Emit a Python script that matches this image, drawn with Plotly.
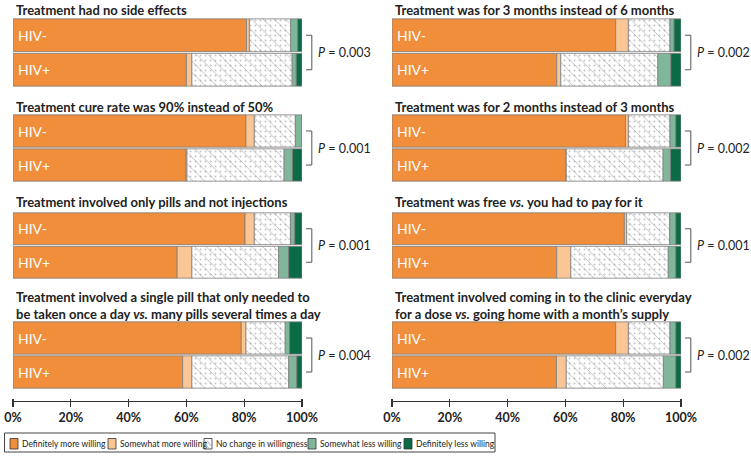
import plotly.graph_objects as go

# ---------------- data ----------------
titles = [
    "Treatment had no side effects",
    "Treatment was for 3 months instead of 6 months",
    "Treatment cure rate was 90% instead of 50%",
    "Treatment was for 2 months instead of 3 months",
    "Treatment involved only pills and not injections",
    "Treatment was free <i>vs.</i> you had to pay for it",
    "Treatment involved a single pill that only needed to<br>be taken once a day <i>vs.</i> many pills several times a day",
    "Treatment involved coming in to the clinic everyday<br>for a dose <i>vs.</i> going home with a month\u2019s supply",
]
p_values = ["0.003", "0.002", "0.001", "0.002", "0.001", "0.001", "0.004", "0.002"]
groups = ["HIV-", "HIV+"]
categories = ["Definitely more willing", "Somewhat more willing", "No change in willingness",
              "Somewhat less willing", "Definitely less willing"]
tick_values = [0, 20, 40, 60, 80, 100]
tick_labels = ["0%", "20%", "40%", "60%", "80%", "100%"]

definitely_more_neg = [80.8, 77.4, 80.6, 80.8, 80.3, 80.4, 79.0, 77.4]
definitely_more_pos = [60.0, 57.0, 59.8, 60.3, 56.8, 57.0, 58.7, 56.9]
somewhat_more_neg = [1.0, 4.4, 2.9, 1.0, 3.2, 0.8, 1.6, 4.4]
somewhat_more_pos = [1.9, 1.4, 0.4, 0.0, 5.1, 4.9, 3.2, 3.4]
no_change_neg = [14.3, 14.4, 14.2, 14.4, 12.5, 14.9, 13.6, 14.4]
no_change_pos = [34.7, 33.6, 33.6, 33.5, 30.0, 33.7, 33.5, 33.6]
somewhat_less_neg = [2.4, 1.4, 2.3, 2.0, 1.5, 2.1, 1.5, 2.0]
somewhat_less_pos = [1.4, 4.5, 2.9, 2.6, 3.5, 2.6, 2.8, 4.3]
definitely_less_neg = [1.5, 2.4, 0.0, 1.8, 2.5, 1.8, 4.3, 1.8]
definitely_less_pos = [2.0, 3.5, 3.3, 3.6, 4.6, 1.8, 1.8, 1.8]

series_neg = [definitely_more_neg, somewhat_more_neg, no_change_neg, somewhat_less_neg, definitely_less_neg]
series_pos = [definitely_more_pos, somewhat_more_pos, no_change_pos, somewhat_less_pos, definitely_less_pos]

# ---------------- style ----------------
colors = ["#F08E3C", "#FBC696", "#FFFFFF", "#80B79B", "#0B6B47"]
FONT = "Lato"
W, H = 751, 459
col_x = [(13, 302), (392, 681)]
row_y = [(18, 87), (114, 182), (212, 279), (321, 389)]
title_y = [10, 107, 202, 305.5]
legend_swatch_x = [10, 108, 204, 308, 404]

fig = go.Figure()
annotations = []
shapes = []


def px(x):
    return x / W


def py(y):
    return 1 - y / H


for k in range(8):
    i = k + 1
    sfx = "" if i == 1 else str(i)
    xa, ya = f"x{sfx}", f"y{sfx}"
    cum_neg, cum_pos = 0.0, 0.0
    for c, name in enumerate(categories):
        vals = [series_neg[c][k], series_pos[c][k]]
        base = [cum_neg, cum_pos]
        marker = dict(color=colors[c], line=dict(color="#7d7d7d", width=0.8))
        if c == 2:
            marker["pattern"] = dict(shape="\\", fgcolor="#666666", bgcolor="#FFFFFF",
                                     size=8, solidity=0.1)
        fig.add_trace(go.Bar(
            y=groups, x=vals, base=base, orientation="h", name=name,
            marker=marker, xaxis=xa, yaxis=ya, showlegend=False,
            hoverinfo="skip"))
        if c == 2:
            fig.add_trace(go.Bar(
                y=groups, x=vals, base=base, orientation="h", name=name,
                marker=dict(color="rgba(0,0,0,0)", line=dict(width=0),
                            pattern=dict(shape=".", fgcolor="#888888", bgcolor="rgba(0,0,0,0)",
                                         size=5, solidity=0.12)),
                xaxis=xa, yaxis=ya, showlegend=False, hoverinfo="skip"))
        cum_neg += vals[0]
        cum_pos += vals[1]

    row, col = k // 2, k % 2
    x0, x1 = col_x[col]
    y0, y1 = row_y[row]
    bottom = row == 3
    xaxis = dict(domain=[px(x0), px(x1)], range=[0, 100], showgrid=False, zeroline=False,
                 fixedrange=True)
    if bottom:
        xaxis.update(anchor="free", position=py(397.5), visible=True, showline=False,
                     ticks="outside", ticklen=8.5, tickwidth=1.2, tickcolor="#333333",
                     tickvals=tick_values, ticktext=tick_labels,
                     tickfont=dict(family=FONT, size=12.5, color="#222222", weight="bold"))
        shapes.append(dict(type="line", xref=f"{xa} domain", x0=0, x1=1, yref="paper",
                           y0=py(401.5), y1=py(401.5),
                           line=dict(color="#333333", width=1.2)))
    else:
        xaxis.update(anchor=ya, visible=False)
    fig.layout[f"xaxis{sfx}"] = xaxis
    fig.layout[f"yaxis{sfx}"] = dict(domain=[py(y1), py(y0)], anchor=xa, visible=False,
                                     type="category", categoryorder="array",
                                     categoryarray=["HIV+", "HIV-"], range=[-0.5, 1.5],
                                     fixedrange=True)

    annotations.append(dict(text=titles[k], xref="paper", yref="paper", x=px(x0 + 1),
                            y=py(title_y[row]), xanchor="left", yanchor="middle",
                            align="left", showarrow=False,
                            font=dict(family=FONT, size=13, color="#222222", weight="bold")))
    for g in groups:
        annotations.append(dict(text=g, xref=xa, yref=ya, x=0, y=g, xshift=3, xanchor="left",
                                yanchor="middle", showarrow=False,
                                font=dict(family=FONT, size=14, color="#FFFFFF")))
    annotations.append(dict(text=f"<i>P</i> = {p_values[k]}", xref=f"{xa} domain",
                            yref=f"{ya} domain", x=1, xshift=14, y=0.5, xanchor="left",
                            yanchor="middle", showarrow=False,
                            font=dict(family=FONT, size=12.5, color="#222222")))
    shapes.append(dict(type="path", xref=f"{xa} domain", yref=f"{ya} domain",
                       path="M 1.014 0.75 L 1.034 0.75 L 1.034 0.25 L 1.014 0.25",
                       line=dict(color="#555555", width=1)))

# ---------------- legend (drawn) ----------------
shapes.append(dict(type="rect", xref="paper", yref="paper", x0=px(4.5), x1=px(495),
                   y0=py(433), y1=py(452), line=dict(color="#444444", width=1),
                   fillcolor="white", layer="below"))
for c, name in enumerate(categories):
    sx = legend_swatch_x[c]
    shapes.append(dict(type="rect", xref="paper", yref="paper", x0=px(sx), x1=px(sx + 8),
                       y0=py(438.5), y1=py(449), fillcolor=colors[c],
                       line=dict(color="#333333", width=0.8)))
    if c == 2:
        shapes.append(dict(type="path", xref="paper", yref="paper",
                           path=(f"M {px(sx+1)} {py(441)} L {px(sx+3)} {py(443.5)} "
                                 f"M {px(sx+3)} {py(440.5)} L {px(sx+7)} {py(446)} "
                                 f"M {px(sx+2)} {py(445)} L {px(sx+5)} {py(448.5)}"),
                           line=dict(color="#777777", width=0.6)))
    annotations.append(dict(text=name, xref="paper", yref="paper", x=px(sx + 10),
                            y=py(444), xanchor="left", yanchor="middle", showarrow=False,
                            font=dict(family=FONT, size=8.5, color="#222222")))

fig.update_layout(
    width=W, height=H, margin=dict(l=0, r=0, t=0, b=0, autoexpand=False),
    paper_bgcolor="white", plot_bgcolor="white",
    barmode="overlay", bargap=0.05,
    annotations=annotations, shapes=shapes,
    font=dict(family=FONT, color="#222222"),
    showlegend=False,
)

fig.write_html("out.html", config={"displayModeBar": False, "staticPlot": True},
               post_script="document.body.style.margin='0px';")
